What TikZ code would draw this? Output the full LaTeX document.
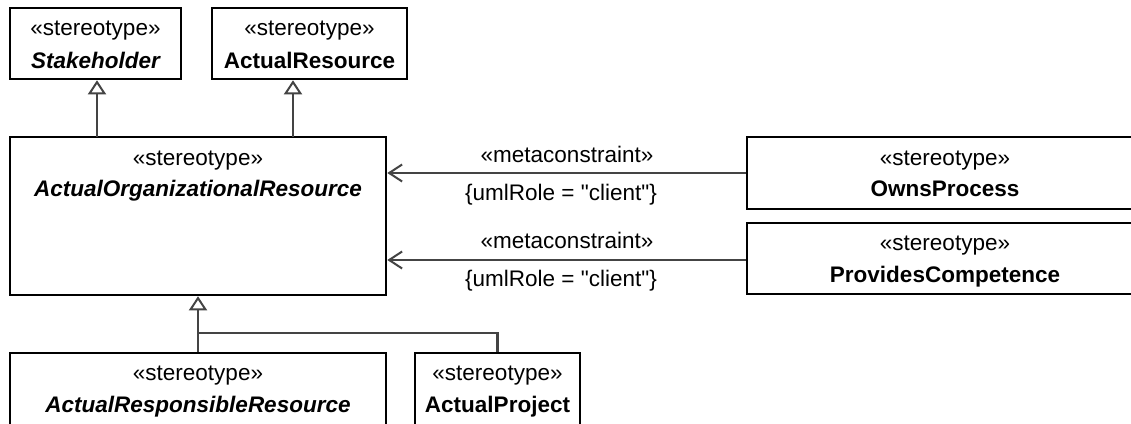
\documentclass[tikz,border=0pt]{standalone}
\usepackage{fontspec}
\setmainfont{Liberation Sans}
\usetikzlibrary{arrows.meta}
\definecolor{conn}{HTML}{444444}
\begin{document}
\begin{tikzpicture}[x=1pt,y=-1pt,
  box/.style={draw=black,line width=2.6pt,rectangle,inner sep=0pt,fill=white},
  txt/.style={anchor=base,inner sep=0pt,font=\fontsize{22.5}{27}\selectfont},
  btxt/.style={txt,font=\fontsize{22.5}{27}\selectfont\bfseries},
  bitxt/.style={txt,font=\fontsize{22.5}{27}\selectfont\bfseries\itshape},
  gen/.style={draw=conn,line width=2.2pt,-{Triangle[open,length=14pt,width=18pt,line width=2pt,fill=white]}},
  gline/.style={draw=conn,line width=2.2pt},
  dep/.style={draw=conn,line width=2.2pt,-{Straight Barb[length=13pt,width=17pt,line width=2pt]}}
]
\useasboundingbox (0,0) rectangle (1131,423);
\clip (0,0) rectangle (1131,423);
\fill[white] (0,0) rectangle (1131,423);

% boxes
\node[box,minimum width=171pt,minimum height=71pt] (sh) at (95.5,43.5) {};
\node[box,minimum width=195pt,minimum height=71pt] (ar) at (309.5,43.5) {};
\node[box,minimum width=376pt,minimum height=158pt] (aor) at (198,216) {};
\node[box,minimum width=400pt,minimum height=72pt] (op) at (947,173) {};
\node[box,minimum width=400pt,minimum height=71pt] (pc) at (947,258.5) {};
\node[box,minimum width=376pt,minimum height=90pt] (arr) at (198,398) {};
\node[box,minimum width=165pt,minimum height=90pt] (ap) at (497.5,398) {};

% texts
\node[txt] (sh1) at (95.5,35) {«stereotype»};
\node[bitxt] (sh2) at (95.5,68) {Stakeholder};
\node[txt] (ar1) at (309.5,35) {«stereotype»};
\node[btxt] (ar2) at (309.5,68) {ActualResource};
\node[txt] (aor1) at (198,165) {«stereotype»};
\node[bitxt] (aor2) at (198,196) {ActualOrganizationalResource};
\node[txt] (op1) at (945,165) {«stereotype»};
\node[btxt] (op2) at (945,196) {OwnsProcess};
\node[txt] (pc1) at (945,250) {«stereotype»};
\node[btxt] (pc2) at (945,282) {ProvidesCompetence};
\node[txt] (arr1) at (198,380) {«stereotype»};
\node[bitxt] (arr2) at (198,412) {ActualResponsibleResource};
\node[txt] (ap1) at (497.5,380) {«stereotype»};
\node[btxt] (ap2) at (497.5,412) {ActualProject};

% generalizations
\coordinate (g1) at (97,137);
\coordinate (g2) at (293,137);
\draw[gen] (g1) -- (g1 |- sh.south);
\draw[gen] (g2) -- (g2 |- ar.south);
\coordinate (j) at (198,333);
\draw[gen] (arr.north) -- (aor.south);
\draw[gline] (j) -| (ap.north);

% metaconstraints
\draw[dep] (op.west) -- (op.west -| aor.east);
\draw[dep] (pc.west |- 0,260) -- (aor.east |- 0,260);
\node[txt] (m1) at (567,162) {«metaconstraint»};
\node[txt] (c1) at (561,200) {\{umlRole = \textquotedbl client\textquotedbl\}};
\node[txt] (m2) at (567,248) {«metaconstraint»};
\node[txt] (c2) at (561,286) {\{umlRole = \textquotedbl client\textquotedbl\}};
\end{tikzpicture}
\end{document}
